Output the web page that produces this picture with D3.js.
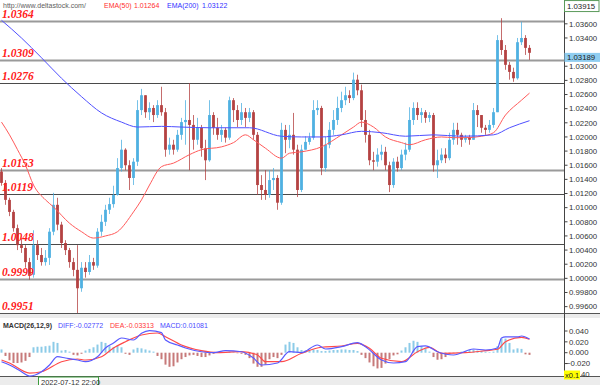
<!DOCTYPE html>
<html>
<head>
<meta charset="utf-8">
<script src="https://cdn.jsdelivr.net/npm/d3@7"></script>
<style>
body { margin: 0; background: #fff; }
svg { display: block; }
text { font-family: "Liberation Sans", Arial, sans-serif; }
</style>
</head>
<body>
<div id="chart"></div>
<script>
// EUR/USD hourly candles, open of each bar = previous close
const firstOpen = 1.0151;
const closes = [1.0135,1.0111,1.0094,1.0071,1.0047,1.0043,1.0023,1.0005,1.0047,1.0033,
    1.0023,1.0029,1.0066,1.0104,1.0076,1.0050,1.0040,1.0023,1.0012,0.9986,
    1.0015,1.0009,1.0023,1.0018,1.0066,1.0080,1.0097,1.0105,1.0118,1.0156,
    1.0182,1.0160,1.0142,1.0165,1.0238,1.0259,1.0235,1.0241,1.0231,1.0245,
    1.0235,1.0182,1.0189,1.0182,1.0203,1.0221,1.0224,1.0217,1.0196,1.0213,
    1.0184,1.0167,1.0231,1.0213,1.0203,1.0210,1.0199,1.0252,1.0238,1.0224,
    1.0235,1.0227,1.0235,1.0203,1.0132,1.0125,1.0118,1.0139,1.0142,1.0107,
    1.0210,1.0196,1.0203,1.0182,1.0125,1.0182,1.0193,1.0199,1.0238,1.0241,
    1.0156,1.0189,1.0210,1.0224,1.0241,1.0252,1.0259,1.0255,1.0281,1.0266,
    1.0224,1.0203,1.0167,1.0165,1.0175,1.0179,1.0160,1.0132,1.0165,1.0156,
    1.0175,1.0182,1.0224,1.0241,1.0231,1.0235,1.0227,1.0231,1.0160,1.0167,
    1.0175,1.0170,1.0196,1.0210,1.0203,1.0196,1.0199,1.0196,1.0238,1.0231,
    1.0213,1.0210,1.0217,1.0235,1.0337,1.0323,1.0302,1.0292,1.0283,1.0334,
    1.0340,1.0326,1.0319];
const highs = [1.0156,1.0139,1.0114,1.0097,1.0076,1.0057,1.0047,1.0029,1.0068,1.0054,
    1.0043,1.0040,1.0071,1.0121,1.0114,1.0080,1.0054,1.0043,1.0029,1.0047,
    1.0023,1.0023,1.0033,1.0029,1.0071,1.0090,1.0104,1.0114,1.0131,1.0170,
    1.0196,1.0184,1.0167,1.0170,1.0252,1.0268,1.0259,1.0249,1.0245,1.0252,
    1.0271,1.0241,1.0199,1.0196,1.0210,1.0227,1.0252,1.0276,1.0231,1.0227,
    1.0217,1.0196,1.0252,1.0235,1.0227,1.0217,1.0213,1.0257,1.0255,1.0245,
    1.0248,1.0241,1.0241,1.0238,1.0207,1.0146,1.0153,1.0153,1.0156,1.0146,
    1.0220,1.0217,1.0217,1.0234,1.0189,1.0189,1.0201,1.0206,1.0252,1.0252,
    1.0244,1.0200,1.0221,1.0238,1.0257,1.0264,1.0271,1.0266,1.0291,1.0288,
    1.0274,1.0238,1.0210,1.0179,1.0184,1.0189,1.0186,1.0165,1.0170,1.0172,
    1.0182,1.0192,1.0242,1.0249,1.0249,1.0241,1.0238,1.0235,1.0234,1.0182,
    1.0184,1.0184,1.0206,1.0220,1.0220,1.0206,1.0203,1.0203,1.0248,1.0245,
    1.0227,1.0217,1.0224,1.0241,1.0344,1.0368,1.0330,1.0306,1.0298,1.0340,
    1.0363,1.0344,1.0330];
const lows = [1.0131,1.0104,1.0088,1.0066,1.0040,1.0036,1.0015,0.9998,1.0001,1.0026,
    1.0018,1.0018,1.0019,1.0061,1.0068,1.0043,1.0033,1.0015,1.0003,0.9951,
    0.9981,1.0001,1.0005,1.0012,1.0015,1.0060,1.0074,1.0091,1.0100,1.0117,
    1.0151,1.0153,1.0125,1.0132,1.0159,1.0231,1.0227,1.0224,1.0221,1.0227,
    1.0230,1.0172,1.0175,1.0175,1.0179,1.0196,1.0189,1.0153,1.0182,1.0189,
    1.0172,1.0139,1.0165,1.0203,1.0196,1.0193,1.0192,1.0196,1.0221,1.0214,
    1.0217,1.0214,1.0221,1.0196,1.0118,1.0111,1.0111,1.0114,1.0125,1.0097,
    1.0104,1.0177,1.0184,1.0175,1.0115,1.0122,1.0182,1.0189,1.0196,1.0231,
    1.0146,1.0151,1.0184,1.0203,1.0217,1.0235,1.0245,1.0248,1.0252,1.0259,
    1.0214,1.0192,1.0160,1.0153,1.0158,1.0167,1.0153,1.0122,1.0128,1.0151,
    1.0153,1.0167,1.0179,1.0217,1.0224,1.0220,1.0220,1.0221,1.0151,1.0142,
    1.0163,1.0163,1.0167,1.0189,1.0189,1.0186,1.0192,1.0189,1.0196,1.0214,
    1.0206,1.0203,1.0206,1.0213,1.0235,1.0316,1.0295,1.0281,1.0278,1.0281,
    1.0330,1.0316,1.0309];

// moving averages, read at some bar indexes
const ema50Idx = [0,2,4,6,8,11,13,17,20,23,26,29,33,35,37,40,43,47,50,55,58,61,63,66,70,72,75,80,85,88,90,93,96,100,102,106,110,113,116,120,123,126,130,132];
const ema50Val = [1.0221,1.0203,1.0182,1.0160,1.0132,1.0111,1.0101,1.0078,1.0066,1.0057,1.0060,1.0066,1.0094,1.0111,1.0132,1.0158,1.0163,1.0175,1.0182,1.0186,1.0192,1.0203,1.0196,1.0184,1.0170,1.0177,1.0179,1.0186,1.0203,1.0214,1.0221,1.0214,1.0200,1.0192,1.0189,1.0196,1.0200,1.0199,1.0199,1.0201,1.0206,1.0231,1.0252,1.0262];
const ema200Idx = [0,5,10,15,20,25,30,34,40,45,52,62,70,75,80,85,90,95,101,108,115,123,127,132];
const ema200Val = [1.0365,1.0340,1.0312,1.0283,1.0257,1.0234,1.0221,1.0214,1.0215,1.0214,1.0213,1.0213,1.0201,1.0200,1.0200,1.0203,1.0208,1.0206,1.0201,1.0203,1.0201,1.0203,1.0213,1.0223];

// horizontal levels drawn on the chart
const levels = [1.0364, 1.0309, 1.0276, 1.0153, 1.0119, 1.0048, 0.9999, 0.9951];
// 1.032 and 1.038 sit under the price boxes, so they are left out
const priceTicks = [0.996,0.998,1.000,1.002,1.004,1.006,1.008,1.010,1.012,1.014,1.016,1.018,1.020,1.022,1.024,1.026,1.028,1.030,1.034,1.036];

// MACD panel
const macdHist = [0.006,-0.006,-0.014,-0.019,-0.019,-0.018,-0.015,-0.008,0.010,0.011,
    0.011,0.012,0.013,0.020,0.018,0.004,0.005,0.002,-0.004,-0.005,
    -0.002,0.004,0.007,0.010,0.015,0.020,0.018,0.012,0.010,0.013,
    0.010,-0.002,-0.004,0.006,0.009,0.008,0.006,0.004,0.002,-0.006,
    -0.012,-0.022,-0.026,-0.025,-0.018,-0.012,-0.008,-0.005,-0.004,-0.006,
    -0.008,-0.008,-0.005,-0.002,0.001,0.002,0.001,0.002,0.001,-0.001,
    -0.002,-0.004,-0.010,-0.020,-0.026,-0.026,-0.022,-0.012,-0.008,-0.010,
    -0.004,0.015,0.020,0.018,0.010,0.005,0.004,0.004,0.006,0.005,
    0.003,0.003,0.004,0.005,0.005,0.006,0.006,0.005,0.005,0.003,
    -0.004,-0.010,-0.018,-0.025,-0.029,-0.028,-0.020,-0.012,-0.005,-0.003,
    0.004,0.010,0.018,0.022,0.020,0.012,0.008,0.002,-0.008,-0.013,
    -0.012,-0.008,-0.003,-0.001,0.001,0.002,0.003,0.005,0.006,0.004,
    0.003,0.002,0.001,0.002,0.012,0.026,0.026,0.018,0.006,0.008,
    0.007,-0.003,-0.004];
const diffIdx = [0,2,5,7,10,12,14,16,19,21,24,26,28,30,33,35,37,40,41,44,46,50,53,56,60,63,65,69,72,75,79,81,85,89,91,95,98,101,104,106,109,113,118,121,124,125,126,129,130,132];
const diffVal = [-0.0166,-0.0227,-0.0351,-0.0430,-0.0351,-0.0227,-0.0074,-0.0098,-0.0135,-0.0166,-0.0074,0.0087,0.0179,0.0271,0.0234,0.0358,0.0406,0.0369,0.0234,0.0142,0.0087,0.0018,0.0,0.0037,0.0018,-0.0098,-0.0227,-0.0190,0.0018,0.0,0.0142,0.0068,0.0111,0.0185,0.0111,-0.0135,-0.0190,-0.0166,0.0111,0.0124,0.0018,-0.0042,0.0068,0.0050,0.0087,0.0271,0.0290,0.0290,0.0308,0.0253];
const deaIdx = [0,2,7,10,15,19,21,25,28,31,35,39,41,45,50,54,60,64,66,70,75,80,85,89,92,95,100,104,107,110,116,121,124,126,130,132];
const deaVal = [-0.0135,-0.0190,-0.0375,-0.0351,-0.0166,-0.0116,-0.0135,-0.0074,0.0087,0.0203,0.0327,0.0363,0.0295,0.0142,0.0037,0.0,0.0018,-0.0042,-0.0166,-0.0166,-0.0011,0.0100,0.0124,0.0173,0.0081,-0.0103,-0.0166,0.0018,0.0100,-0.0011,0.0,0.0037,0.0063,0.0203,0.0284,0.0247];
const macdTicks = [0.04, 0.02, 0, -0.02];

const maxPrice = 1.03915, lastPrice = 1.03189;

const W = 600, H = 385, axisX = 564.5;

let svg = d3.select("#chart").append("svg")
    .attr("width", W).attr("height", H);

svg.append("rect").attr("width", W).attr("height", H).attr("fill", "#fff");

let x = d3.scaleLinear().domain([0, closes.length - 1]).range([1.5, 529.5]);
let y = d3.scaleLinear().domain([0.9951, 1.0364]).range([313, 21]);
let ym = d3.scaleLinear().domain([-0.04, 0.04]).range([374.4, 331]);

let candles = closes.map((c, i) => {
    let o = i ? closes[i - 1] : firstOpen;
    return { i: i, o: o, c: c, h: Math.max(highs[i], o, c), l: Math.min(lows[i], o, c) };
});

// level lines
const lightLevels = new Set([1.0364, 1.0309, 1.0153, 0.9999]);
svg.append("g").selectAll("line").data(levels).join("line")
    .attr("x1", 0).attr("x2", axisX)
    .attr("y1", d => Math.round(y(d)) + 0.5).attr("y2", d => Math.round(y(d)) + 0.5)
    .attr("stroke", d => lightLevels.has(d) ? "#9a9a9a" : "#4a4a4a")
    .attr("stroke-width", d => lightLevels.has(d) ? 2 : 1.2);

// candles
const bull = "#4aaee0", bear = "#b23c3c";
let cg = svg.append("g");
cg.selectAll("line").data(candles).join("line")
    .attr("x1", d => x(d.i)).attr("x2", d => x(d.i))
    .attr("y1", d => y(d.h)).attr("y2", d => y(d.l))
    .attr("stroke", d => d.c >= d.o ? bull : bear)
    .attr("stroke-opacity", 0.75)
    .attr("stroke-width", 1);
cg.selectAll("rect").data(candles).join("rect")
    .attr("x", d => x(d.i) - 1.5).attr("width", 3)
    .attr("y", d => y(Math.max(d.o, d.c)))
    .attr("height", d => Math.max(1, Math.abs(y(d.o) - y(d.c))))
    .attr("fill", d => d.c >= d.o ? bull : bear)
    .attr("fill-opacity", 0.88);

// EMAs
let maLine = d3.line().x(d => x(d[0])).y(d => y(d[1])).curve(d3.curveMonotoneX);
svg.append("path").datum(d3.zip(ema50Idx, ema50Val))
    .attr("d", maLine).attr("fill", "none").attr("stroke", "#ff5a5a").attr("stroke-width", 1);
svg.append("path").datum(d3.zip(ema200Idx, ema200Val))
    .attr("d", maLine).attr("fill", "none").attr("stroke", "#5050ff").attr("stroke-width", 1);

// level labels
svg.append("g").selectAll("text").data(levels).join("text")
    .attr("x", 2).attr("y", d => y(d) - 3)
    .attr("fill", "#ff2020")
    .style("font-family", "'Liberation Serif', 'Times New Roman', serif")
    .style("font-style", "italic").style("font-weight", "bold")
    .style("font-size", "11.5px")
    .text(d => d3.format(".4f")(d));

// top legend
let legend = svg.append("g").style("font-size", "7px");
legend.append("text").attr("x", 3).attr("y", 8).attr("fill", "#606060").text("http://www.deltastock.com/");
legend.append("text").attr("x", 104).attr("y", 8).attr("fill", "#ff3030").text("EMA(50)");
legend.append("text").attr("x", 134).attr("y", 8).attr("fill", "#ff3030").text("1.01264");
legend.append("text").attr("x", 167).attr("y", 8).attr("fill", "#3030ff").text("EMA(200)");
legend.append("text").attr("x", 202).attr("y", 8).attr("fill", "#3030ff").text("1.03122");

// panel frames
svg.append("rect").attr("x", 0).attr("y", 313.5).attr("width", W).attr("height", 4.5).attr("fill", "#ececec");
svg.append("line").attr("x1", 0).attr("x2", W).attr("y1", 313.5).attr("y2", 313.5).attr("stroke", "#555");
svg.append("rect").attr("x", 0).attr("y", 377).attr("width", W).attr("height", 8).attr("fill", "#ececec");
svg.append("line").attr("x1", 0).attr("x2", W).attr("y1", 376.5).attr("y2", 376.5).attr("stroke", "#555");
svg.append("line").attr("x1", axisX).attr("x2", axisX).attr("y1", 0).attr("y2", 377).attr("stroke", "#444");

// right price axis
let pa = svg.append("g").style("font-size", "7.8px");
pa.selectAll("line").data(priceTicks).join("line")
    .attr("x1", axisX).attr("x2", axisX + 3)
    .attr("y1", d => y(d)).attr("y2", d => y(d)).attr("stroke", "#444");
pa.selectAll("text").data(priceTicks).join("text")
    .attr("x", 569).attr("y", d => y(d)).attr("dy", "0.35em")
    .attr("fill", "#333").text(d => d3.format(".5f")(d));

svg.append("rect").attr("x", axisX).attr("y", y(maxPrice) - 1).attr("width", 34.5).attr("height", 11)
    .attr("fill", "#fff").attr("stroke", "#5a9a5a");
svg.append("text").attr("x", 567).attr("y", y(maxPrice) + 7.5).style("font-size", "7.8px")
    .attr("fill", "#222").text(d3.format(".5f")(maxPrice));
svg.append("rect").attr("x", axisX).attr("y", y(lastPrice)).attr("width", 35.5).attr("height", 9)
    .attr("fill", "#8fcdf0");
svg.append("text").attr("x", 567).attr("y", y(lastPrice) + 7.2).style("font-size", "7.8px")
    .attr("fill", "#222").text(d3.format(".5f")(lastPrice));

// MACD histogram
svg.append("g").selectAll("rect").data(macdHist).join("rect")
    .attr("x", (d, i) => x(i) - 1).attr("width", 2)
    .attr("y", d => Math.min(ym(d), ym(0)))
    .attr("height", d => Math.abs(ym(d) - ym(0)))
    .attr("fill", d => d >= 0 ? "#8ccbe8" : "#c77a7a");

let macdLine = d3.line().x(d => x(d[0])).y(d => ym(d[1])).curve(d3.curveMonotoneX);
svg.append("path").datum(d3.zip(deaIdx, deaVal))
    .attr("d", macdLine).attr("fill", "none").attr("stroke", "#ff4a4a").attr("stroke-width", 1.2);
svg.append("path").datum(d3.zip(diffIdx, diffVal))
    .attr("d", macdLine).attr("fill", "none").attr("stroke", "#5a5aff").attr("stroke-width", 1.2);

// MACD axis
let ma = svg.append("g").style("font-size", "7.8px");
ma.selectAll("line").data(macdTicks).join("line")
    .attr("x1", axisX).attr("x2", axisX + 3)
    .attr("y1", d => ym(d)).attr("y2", d => ym(d)).attr("stroke", "#444");
ma.selectAll("text").data(macdTicks).join("text")
    .attr("x", d => d < 0 ? 566 : 569).attr("y", d => ym(d)).attr("dy", "0.35em")
    .attr("fill", "#333").text(d => d3.format(".3f")(d));
// the -0.040 label shows only its last digits beside the scale box
svg.append("text").attr("x", 581).attr("y", ym(-0.04)).attr("dy", "0.35em")
    .style("font-size", "7.8px").attr("fill", "#333").text("40");
svg.append("rect").attr("x", 564).attr("y", 370.5).attr("width", 16).attr("height", 9).attr("fill", "#ffff00");
svg.append("text").attr("x", 565).attr("y", 378).style("font-size", "7.5px").attr("fill", "#222").text("x0.1");

// MACD legend
let ml = svg.append("g").style("font-size", "7px");
ml.append("text").attr("x", 3).attr("y", 327.5).attr("fill", "#333").style("font-weight", "bold").text("MACD(26,12,9)");
ml.append("text").attr("x", 58).attr("y", 327.5).attr("fill", "#4a4aff").text("DIFF:-0.02772");
ml.append("text").attr("x", 110).attr("y", 327.5).attr("fill", "#ff3a3a").text("DEA:-0.03313");
ml.append("text").attr("x", 160).attr("y", 327.5).attr("fill", "#4a4aff").text("MACD:0.01081");

// time label
svg.append("rect").attr("x", 38.5).attr("y", 377).attr("width", 60).attr("height", 8.5)
    .attr("fill", "#fff").attr("stroke", "#3c9c3c");
svg.append("text").attr("x", 41).attr("y", 384.5).style("font-size", "7.5px")
    .attr("fill", "#333").text("2022-07-12 22:00");
</script>
</body>
</html>
